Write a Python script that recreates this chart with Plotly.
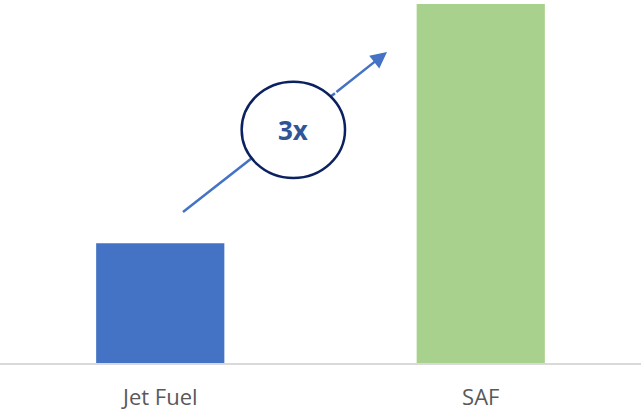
import plotly.graph_objects as go

# Fuel cost comparison
categories = ["Jet Fuel", "SAF"]
values = [1.0, 3.0]
bar_colors = ["#4472C4", "#A9D18E"]
multiplier_label = "3x"

fig = go.Figure(
    go.Bar(
        x=categories,
        y=values,
        marker=dict(color=bar_colors, line=dict(width=0)),
        width=0.4,
        hoverinfo="skip",
    )
)

# Arrow shaft running from Jet Fuel towards SAF (drawn beneath the badge)
x_start, y_start = 0.071, 1.262
x_mid, y_mid = 0.545, 2.255
x_tip, y_tip = 0.7075, 2.599

fig.add_shape(
    type="line", xref="x", yref="y",
    x0=x_start, y0=y_start, x1=x_mid, y1=y_mid,
    line=dict(color="#4472C4", width=2.5),
    layer="above",
)

# Circular badge with the multiplier
fig.add_shape(
    type="circle", xref="x", yref="y",
    x0=0.254, x1=0.5765, y0=1.546, y1=2.351,
    fillcolor="white",
    line=dict(color="#0B2160", width=2.5),
    layer="above",
)

# Arrow head section
fig.add_annotation(
    x=x_tip, y=y_tip, ax=x_mid, ay=y_mid,
    xref="x", yref="y", axref="x", ayref="y",
    text="", showarrow=True,
    arrowhead=2, arrowsize=1.3, arrowwidth=2.5, arrowcolor="#4472C4",
    standoff=0, startstandoff=0,
)

fig.add_annotation(
    x=(0.254 + 0.5765) / 2, y=(1.546 + 2.351) / 2,
    xref="x", yref="y",
    text=f"<b>{multiplier_label}</b>", showarrow=False,
    font=dict(family="Open Sans", size=26, color="#2F5597"),
)

fig.update_layout(
    width=641, height=410,
    margin=dict(l=0, r=0, t=4, b=47, autoexpand=False),
    paper_bgcolor="white", plot_bgcolor="white",
    showlegend=False,
    bargap=0.6,
    font=dict(family="Open Sans", color="#595959"),
)
fig.update_xaxes(
    showline=True, linecolor="#D9D9D9", linewidth=1.5,
    showgrid=False, zeroline=False, ticks="",
    tickfont=dict(size=22, color="#595959", family="Open Sans"),
    ticklabelstandoff=14,
    automargin=False,
    range=[-0.5, 1.5],
)
fig.update_yaxes(visible=False, range=[0, 3.0], showgrid=False, zeroline=False,
                 automargin=False)

fig.write_html("out.html")
